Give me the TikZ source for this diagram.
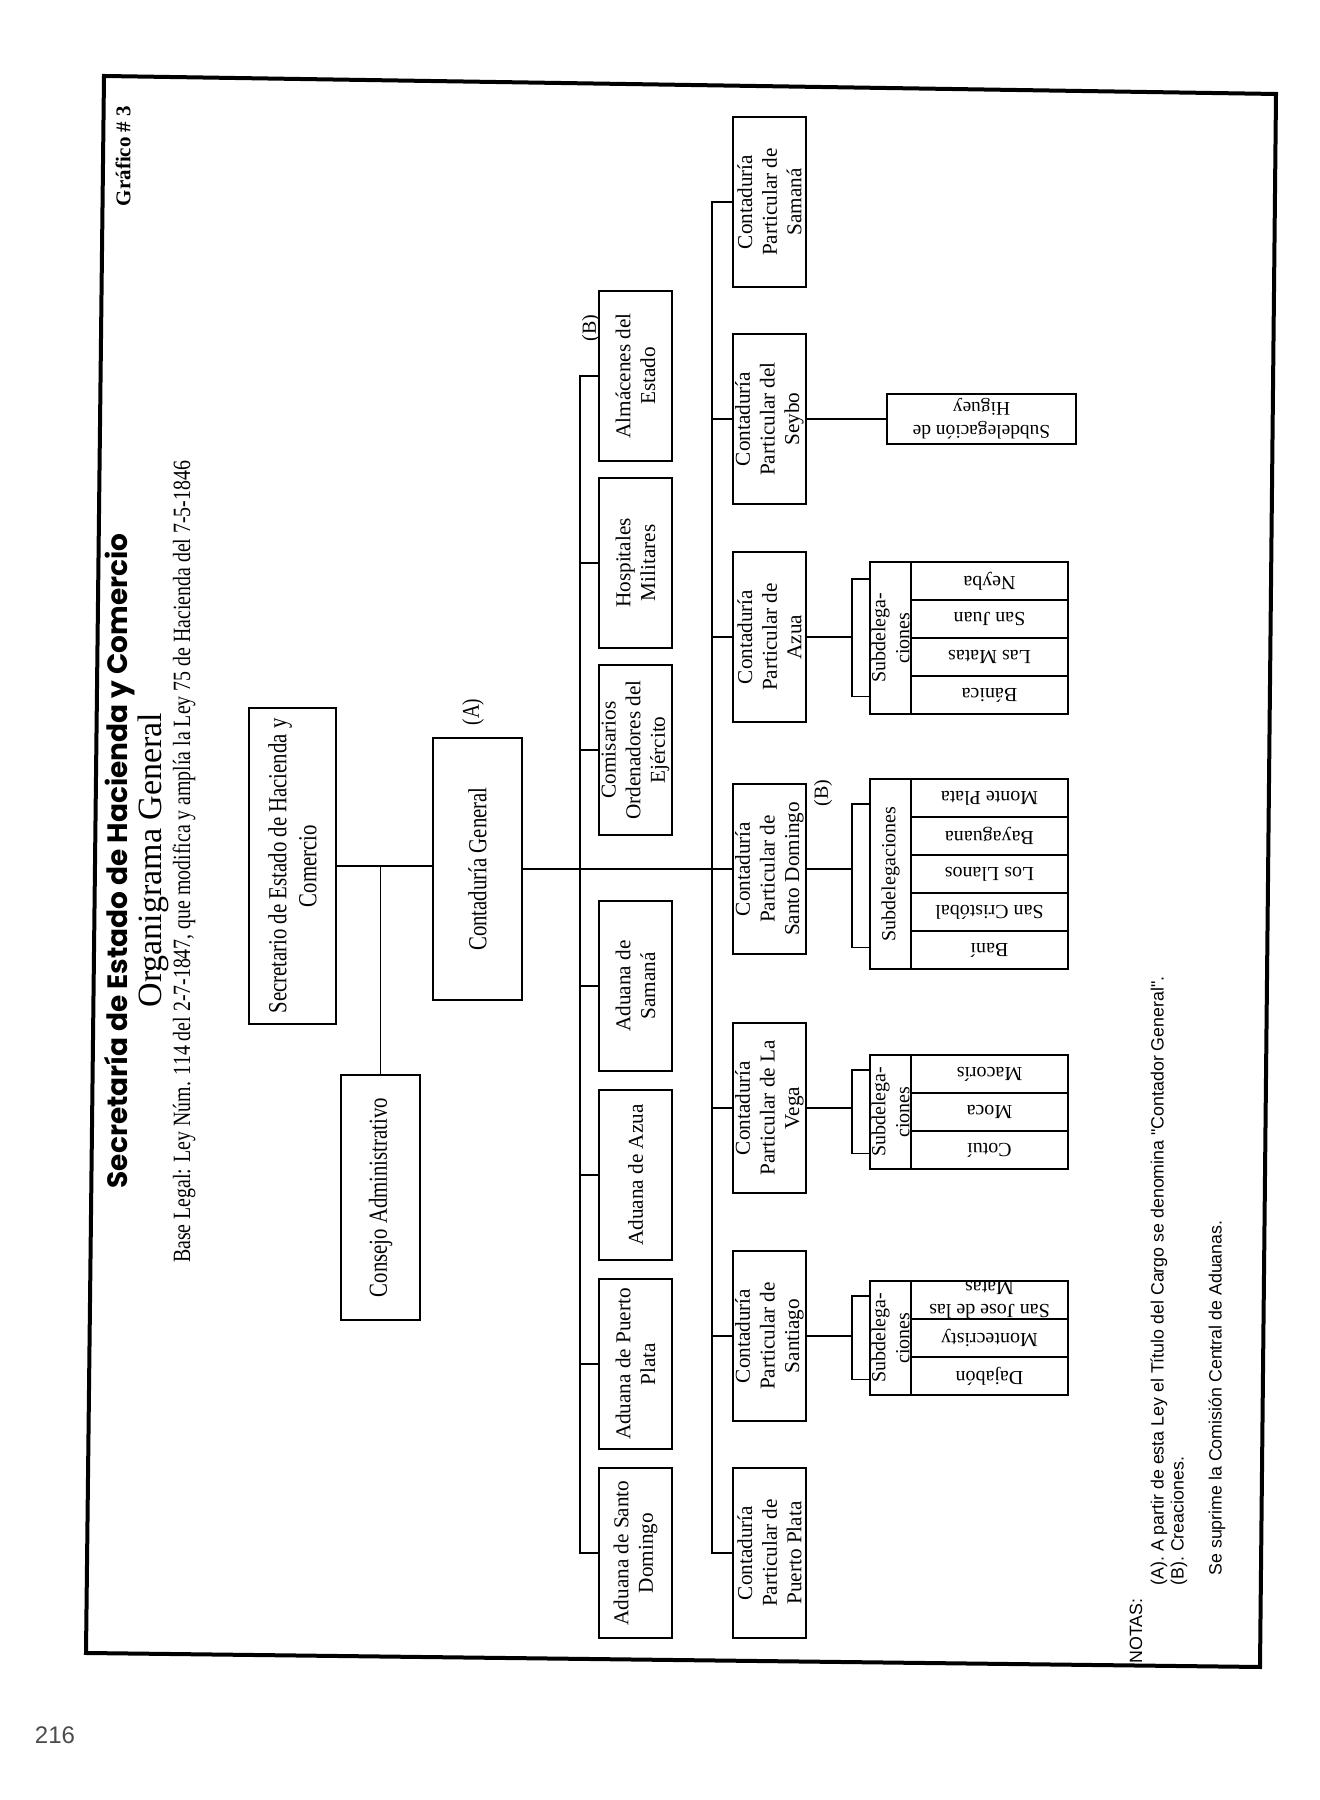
\documentclass[tikz,border=0pt]{standalone}
\usepackage{fontspec}
\setmainfont{Liberation Serif}
\newfontfamily\narrowfont{Liberation Serif}[FakeStretch=0.8]
\newfontfamily\titlefont{Poppins}
\newfontfamily\notefont{Liberation Sans}

\begin{document}
\begin{tikzpicture}[x=0.5pt,y=0.5pt]

\tikzset{
  office/.style = {draw, line width=0.9pt, inner sep=1pt, align=center,
                   font=\fontsize{10.6}{12.3}\selectfont},
  unitbox/.style= {office, minimum width=85pt, minimum height=36.5pt},
  chief/.style  = {office, font=\narrowfont\fontsize{13}{15}\selectfont},
  subhead/.style= {office, inner ysep=-2pt, minimum height=20.5pt,
                   font=\fontsize{10}{12}\selectfont},
  cell/.style   = {office, rotate=90, inner ysep=-3pt, minimum width=78.5pt,
                   minimum height=19pt, font=\fontsize{10}{11.5}\selectfont},
  link/.style   = {line width=0.6pt},
  tag/.style    = {inner sep=0pt, font=\fontsize{10}{12}\selectfont},
  notes/.style  = {inner sep=0pt, anchor=west, align=left,
                   font=\notefont\fontsize{8.9}{10}\selectfont},
}

\useasboundingbox (0,0) rectangle (1320,1800);
\draw[line width=2pt] (104,1724) -- (1276,1706) -- (1260,133) -- (86,147) -- cycle;
\node[font=\notefont\fontsize{12}{14}\selectfont, text=black!70] (pageno) at (55,65) {216};

\begin{scope}[shift={(1320,0)}, rotate=90, transform shape]

\node[font=\titlefont\bfseries\fontsize{14}{16}\selectfont] (title) at (939,1200) {Secretaría de Estado de Hacienda y Comercio};
\node[font=\fontsize{17}{19}\selectfont] (subtitle) at (940,1167) {Organigrama General};
\node[font=\narrowfont\fontsize{12.4}{14}\selectfont] (legal) at (938,1136) {Base Legal: Ley Núm. 114 del 2-7-1847, que modifica y amplía la Ley 75 de Hacienda del 7-5-1846};
\node[font=\bfseries\fontsize{10.5}{12}\selectfont] (chartno) at (1644,1197) {Gráfico \# 3};

\node[chief, minimum width=158pt, minimum height=43.5pt] (sec) at (934,1027.5) {Secretario de Estado de Hacienda y\\Comercio};
\node[chief, minimum width=131pt, minimum height=44.5pt] (cg) at (931,842.5) {Contaduría General};
\node[tag, font=\narrowfont\fontsize{12}{14}\selectfont] (tagA) at (1088,847) {(A)};
\node[chief, minimum width=122.5pt, minimum height=39.5pt] (cons) at (602.5,939.5) {Consejo Administrativo};

\node[unitbox] (asd) at (247,684.5) {Aduana de Santo\\Domingo};
\node[unitbox] (apl) at (436,684.5) {Aduana de Puerto\\Plata};
\node[unitbox] (aaz) at (625,684.5) {Aduana de Azua};
\node[unitbox] (asm) at (814,684.5) {Aduana de\\Samaná};
\node[unitbox] (com) at (1050,684.5) {Comisarios\\Ordenadores del\\Ejército};
\node[unitbox] (hos) at (1237,684.5) {Hospitales\\Militares};
\node[unitbox] (alm) at (1424,684.5) {Almácenes del\\Estado};
\node[tag] (tagB1) at (1472,729) {(B)};

\node[unitbox] (cpp) at (247,550.5) {Contaduría\\Particular de\\Puerto Plata};
\node[unitbox] (csa) at (464,550.5) {Contaduría\\Particular de\\Santiago};
\node[unitbox] (cve) at (692,550.5) {Contaduría\\Particular de La\\Vega};
\node[unitbox] (csd) at (931,550.5) {Contaduría\\Particular de\\Santo Domingo};
\node[tag] (tagB2) at (1007,497) {(B)};
\node[unitbox] (caz) at (1163,550.5) {Contaduría\\Particular de\\Azua};
\node[unitbox] (cse) at (1381,550.5) {Contaduría\\Particular del\\Seybo};
\node[unitbox] (csm) at (1598,550.5) {Contaduría\\Particular de\\Samaná};

\node[subhead, minimum width=57pt] (csah) at (462,429.5) {Subdelega-\\ciones};
\node[cell] (dajabon) at (424,330.5) {Dajabón};
\node[cell] (montecristy) at (462,330.5) {Montecristy};
\node[cell] (sanjose) at (500,330.5) {San Jose de las\\Matas};

\node[subhead, minimum width=57pt] (cveh) at (688,429.5) {Subdelega-\\ciones};
\node[cell] (cotui) at (650,330.5) {Cotuí};
\node[cell] (moca) at (688,330.5) {Moca};
\node[cell] (macoris) at (726,330.5) {Macorís};

\node[subhead, minimum width=95pt] (csdh) at (926,429.5) {Subdelegaciones};
\node[cell] (bani) at (850,330.5) {Baní};
\node[cell] (sancristobal) at (888,330.5) {San Cristóbal};
\node[cell] (losllanos) at (926,330.5) {Los Llanos};
\node[cell] (bayaguana) at (964,330.5) {Bayaguana};
\node[cell] (monteplata) at (1002,330.5) {Monte Plata};

\node[subhead, minimum width=76pt] (cazh) at (1162,429.5) {Subdelega-\\ciones};
\node[cell] (banica) at (1105,330.5) {Bánica};
\node[cell] (lasmatas) at (1143,330.5) {Las Matas};
\node[cell] (sanjuan) at (1181,330.5) {San Juan};
\node[cell] (neyba) at (1219,330.5) {Neyba};

% rotated box: its east side is the top
\node[cell, minimum width=94.5pt, minimum height=25pt, font=\fontsize{9.7}{11.5}\selectfont] (hig) at (1381,338.5) {Subdelegación de\\Higuey};

\draw[link] (sec.south) -- (sec.south |- cg.north);
\draw[link] (sec.south |- cons.east) -- (cons.east);
\draw[link] (cg.south) -- (csd.north);

\coordinate (bus2) at (0,740);
\draw[link] (asd.north) -- (asd.north |- bus2) -- (alm.north |- bus2) -- (alm.north);
\draw[link] (apl.north) -- (apl.north |- bus2);
\draw[link] (aaz.north) -- (aaz.north |- bus2);
\draw[link] (asm.north) -- (asm.north |- bus2);
\draw[link] (com.north) -- (com.north |- bus2);
\draw[link] (hos.north) -- (hos.north |- bus2);

\coordinate (bus3) at (0,608);
\draw[link] (cpp.north) -- (cpp.north |- bus3) -- (csm.north |- bus3) -- (csm.north);
\draw[link] (csa.north) -- (csa.north |- bus3);
\draw[link] (cve.north) -- (cve.north |- bus3);
\draw[link] (caz.north) -- (caz.north |- bus3);
\draw[link] (cse.north) -- (cse.north |- bus3);

\coordinate (csabr) at (464,468);
\draw[link] (csa.south) -- (csabr);
\draw[link] ([xshift=8pt]csah.north west) |- (csabr) -| ([xshift=-8pt]csah.north east);
\coordinate (cvebr) at (692,468);
\draw[link] (cve.south) -- (cvebr);
\draw[link] ([xshift=8pt]cveh.north west) |- (cvebr) -| ([xshift=-8pt]cveh.north east);
\coordinate (csdbr) at (931,468);
\draw[link] (csd.south) -- (csdbr);
\draw[link] ([xshift=11pt]csdh.north west) |- (csdbr) -| ([xshift=-13pt]csdh.north east);
\coordinate (cazbr) at (1163,468);
\draw[link] (caz.south) -- (cazbr);
\draw[link] ([xshift=9pt]cazh.north west) |- (cazbr) -| ([xshift=-9pt]cazh.north east);
\draw[link] (cse.south) -- (hig.east);

\node[notes] (notas) at (136,184) {NOTAS:};
\node[notes] (notesab) at (214,151) {(A). A partir de esta Ley el Título del Cargo se denomina "Contador General".\\(B). Creaciones.};
\node[notes] (notesc) at (224,103) {Se suprime la Comisión Central de Aduanas.};

\end{scope}
\end{tikzpicture}
\end{document}
